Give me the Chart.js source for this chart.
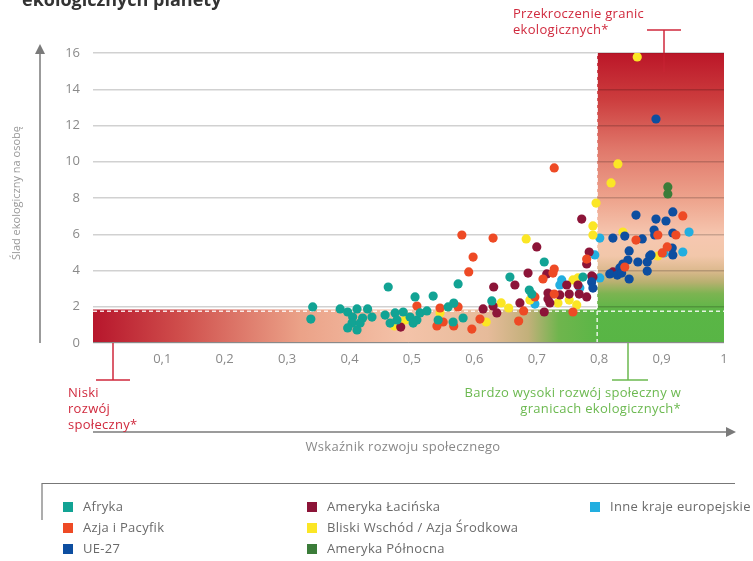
<!DOCTYPE html>
<html lang="pl">
<head>
    <meta charset="UTF-8">
    <title>Ślad ekologiczny a rozwój społeczny</title>
    <style>
        html, body { margin: 0; padding: 0; background: #fff; }
        #wrap { width: 753px; height: 561px; }
    </style>
</head>
<body>

<div id="wrap">
    <canvas id="myChart" width="753" height="561"></canvas>
</div>

<script src="https://cdn.jsdelivr.net/npm/chart.js@4/dist/chart.umd.min.js"></script>

<script>
    // tick labels
    var xTickVals = [0.1, 0.2, 0.3, 0.4, 0.5, 0.6, 0.7, 0.8, 0.9, 1];
    var xTickLabels = ['0,1', '0,2', '0,3', '0,4', '0,5', '0,6', '0,7', '0,8', '0,9', '1'];

    // regions: [x, y] per country, x = wskaznik rozwoju, y = slad ekologiczny
    var afryka = [
        [0.338, 1.32], [0.341, 1.99], [0.385, 1.88], [0.397, 1.71], [0.412, 1.88], [0.429, 1.88],
        [0.405, 1.43], [0.421, 1.38], [0.436, 1.43], [0.404, 1.10], [0.417, 1.10], [0.397, 0.83],
        [0.412, 0.72], [0.457, 1.54], [0.473, 1.66], [0.486, 1.71], [0.476, 1.27], [0.497, 1.43],
        [0.508, 1.27], [0.465, 1.10], [0.513, 1.66], [0.524, 1.77], [0.502, 1.10], [0.542, 1.27],
        [0.566, 1.16], [0.582, 1.38], [0.462, 3.09], [0.505, 2.54], [0.534, 2.59], [0.558, 1.99],
        [0.567, 2.20], [0.574, 3.26], [0.628, 2.32], [0.657, 3.64], [0.712, 4.47], [0.688, 2.92],
        [0.692, 2.70], [0.774, 3.64]
    ];
    var azjaPacyfik = [
        [0.508, 2.04], [0.545, 1.93], [0.540, 0.94], [0.550, 1.16], [0.567, 0.94], [0.574, 1.99],
        [0.596, 0.77], [0.609, 1.32], [0.580, 5.96], [0.591, 3.92], [0.598, 4.74], [0.630, 5.79],
        [0.671, 1.21], [0.679, 1.77], [0.697, 2.54], [0.710, 3.53], [0.726, 3.86], [0.728, 4.08],
        [0.728, 2.70], [0.758, 1.71], [0.780, 4.63], [0.728, 9.66], [0.934, 7.01], [0.859, 5.68],
        [0.894, 5.96], [0.923, 5.96], [0.901, 4.97], [0.909, 5.30], [0.841, 4.19]
    ];
    var ue27 = [
        [0.859, 7.06], [0.918, 7.23], [0.891, 6.84], [0.907, 6.73], [0.822, 5.79], [0.841, 5.90],
        [0.869, 5.74], [0.888, 6.23], [0.889, 5.96], [0.918, 6.07], [0.848, 5.08], [0.883, 4.86],
        [0.917, 5.24], [0.918, 4.86], [0.846, 4.58], [0.838, 4.36], [0.862, 4.47], [0.877, 4.47],
        [0.881, 4.80], [0.833, 4.14], [0.877, 3.97], [0.817, 3.81], [0.829, 3.75], [0.836, 3.86],
        [0.848, 3.53], [0.788, 3.37], [0.790, 3.03], [0.891, 12.36]
    ];
    var amerykaLacinska = [
        [0.482, 0.88], [0.614, 1.88], [0.630, 2.04], [0.636, 1.66], [0.631, 3.09], [0.665, 3.20],
        [0.686, 3.86], [0.700, 5.30], [0.772, 6.84], [0.784, 5.02], [0.780, 4.36], [0.716, 3.81],
        [0.748, 3.20], [0.790, 3.64], [0.766, 3.20], [0.718, 2.76], [0.737, 2.65], [0.752, 2.70],
        [0.768, 2.70], [0.780, 2.54], [0.721, 2.21], [0.718, 2.43], [0.673, 2.21], [0.712, 1.71],
        [0.822, 3.92], [0.788, 3.70]
    ];
    var bliskiWschod = [
        [0.472, 0.94], [0.489, 1.27], [0.545, 1.66], [0.619, 1.16], [0.643, 2.21], [0.655, 1.93],
        [0.683, 5.74], [0.689, 2.37], [0.734, 2.21], [0.752, 2.37], [0.764, 2.10], [0.758, 3.48],
        [0.766, 3.59], [0.795, 7.72], [0.790, 6.46], [0.790, 5.96], [0.838, 6.12], [0.894, 4.80],
        [0.861, 15.78], [0.830, 9.88], [0.819, 8.83]
    ];
    var amerykaPolnocna = [[0.910, 8.61], [0.910, 8.22]];
    var inneEuropa = [
        [0.801, 5.79], [0.944, 6.12], [0.904, 4.97], [0.934, 5.02], [0.793, 4.86], [0.801, 3.59],
        [0.740, 3.48], [0.737, 3.20], [0.769, 3.03], [0.697, 2.15]
    ];

    var regionNames = ['Afryka', 'Azja i Pacyfik', 'UE-27', 'Ameryka Łacińska',
        'Bliski Wschód / Azja Środkowa', 'Ameryka Północna', 'Inne kraje europejskie'];
    var regionData = [afryka, azjaPacyfik, ue27, amerykaLacinska, bliskiWschod, amerykaPolnocna, inneEuropa];
    var regionColors = ['#12a394', '#ee4a25', '#0d4ea0', '#8c1438', '#fbe625', '#3b7c39', '#22aee0'];

    var FONT = '"Open Sans", "DejaVu Sans", sans-serif';

    function toPoints(arr) {
        return arr.map(function (p) { return { x: p[0], y: p[1] }; });
    }

    // background zones, dashed lines
    var zonesPlugin = {
        id: 'zones',
        beforeDraw: function (chart) {
            var ctx = chart.ctx, xs = chart.scales.x, ys = chart.scales.y;
            var left = chart.chartArea.left;
            var x08 = xs.getPixelForValue(0.8), x1 = xs.getPixelForValue(1);
            var y0 = ys.getPixelForValue(0), yBand = ys.getPixelForValue(1.85), y16 = ys.getPixelForValue(16);
            ctx.save();

            var g = ctx.createLinearGradient(left, 0, x08, 0);
            g.addColorStop(0, '#b7162c');
            g.addColorStop(0.17, '#cf4d4b');
            g.addColorStop(0.41, '#eba288');
            g.addColorStop(0.62, '#f4c3a9');
            g.addColorStop(0.78, '#e6bb9a');
            g.addColorStop(0.86, '#c2b07a');
            g.addColorStop(0.92, '#6fb54d');
            g.addColorStop(1, '#5ab646');
            ctx.fillStyle = g;
            ctx.fillRect(left, yBand, x08 - left, y0 - yBand);

            var v = ctx.createLinearGradient(0, y16, 0, y0);
            v.addColorStop(0, '#bb1628');
            v.addColorStop(0.16, '#cc3d3e');
            v.addColorStop(0.33, '#e0776a');
            v.addColorStop(0.51, '#eea58e');
            v.addColorStop(0.63, '#f6c7b0');
            v.addColorStop(0.70, '#f2c7aa');
            v.addColorStop(0.75, '#dcb98e');
            v.addColorStop(0.79, '#b8b070');
            v.addColorStop(0.83, '#7cb451');
            v.addColorStop(0.89, '#5ab646');
            v.addColorStop(1, '#58b545');
            ctx.fillStyle = v;
            ctx.fillRect(x08 - 2, y16, x1 - x08 + 2, y0 - y16);
            ctx.restore();
        },
        beforeDatasetsDraw: function (chart) {
            var ctx = chart.ctx, xs = chart.scales.x, ys = chart.scales.y;
            var left = chart.chartArea.left;
            var x08 = xs.getPixelForValue(0.8) - 2, x1 = xs.getPixelForValue(1);
            var y0 = ys.getPixelForValue(0), y16 = ys.getPixelForValue(16), yd = ys.getPixelForValue(1.75);
            ctx.save();
            ctx.setLineDash([4, 3]);
            ctx.lineWidth = 1.5;
            ctx.strokeStyle = 'rgba(255,255,255,0.85)';
            ctx.beginPath();
            ctx.moveTo(left, yd);
            ctx.lineTo(x1, yd);
            ctx.moveTo(x08, y0);
            ctx.lineTo(x08, y16);
            ctx.stroke();
            ctx.setLineDash([]);
            ctx.strokeStyle = '#8a8a8a';
            ctx.lineWidth = 1;
            ctx.beginPath();
            ctx.moveTo(left, y0 - 0.5);
            ctx.lineTo(x1, y0 - 0.5);
            ctx.stroke();
            ctx.restore();
        }
    };

    function arrowLine(ctx, x1, y1, x2, y2) {
        ctx.beginPath();
        ctx.moveTo(x1, y1);
        ctx.lineTo(x2, y2);
        ctx.stroke();
        var a = Math.atan2(y2 - y1, x2 - x1);
        ctx.beginPath();
        ctx.moveTo(x2 + Math.cos(a) * 4, y2 + Math.sin(a) * 4);
        ctx.lineTo(x2 - Math.cos(a) * 6 + Math.sin(a) * 5, y2 - Math.sin(a) * 6 - Math.cos(a) * 5);
        ctx.lineTo(x2 - Math.cos(a) * 6 - Math.sin(a) * 5, y2 - Math.sin(a) * 6 + Math.cos(a) * 5);
        ctx.closePath();
        ctx.fill();
    }

    // arrows, axis titles, notes and legend
    var decorPlugin = {
        id: 'decor',
        afterDraw: function (chart) {
            var ctx = chart.ctx;
            var red = '#d0293d', green = '#6cb950';
            ctx.save();

            // cut off title
            ctx.fillStyle = '#333';
            ctx.font = 'bold 18px ' + FONT;
            ctx.textAlign = 'left';
            ctx.textBaseline = 'alphabetic';
            ctx.fillText('ekologicznych planety', 22, 6);

            // axis arrows
            ctx.strokeStyle = '#7a7a7a';
            ctx.fillStyle = '#7a7a7a';
            ctx.lineWidth = 1.5;
            arrowLine(ctx, 40, 343, 40, 48);
            arrowLine(ctx, 93, 432, 732, 432);

            ctx.letterSpacing = '0.3px';
            ctx.fillStyle = '#888';
            ctx.font = '13px ' + FONT;
            ctx.textAlign = 'center';
            ctx.textBaseline = 'middle';
            ctx.fillText('Wskaźnik rozwoju społecznego', 403, 447);

            ctx.save();
            ctx.translate(17, 193);
            ctx.rotate(-Math.PI / 2);
            ctx.letterSpacing = '0px';
            ctx.font = '11px ' + FONT;
            ctx.fillStyle = '#999';
            ctx.fillText('Ślad ekologiczny na osobę', 0, 0);
            ctx.restore();

            // red bracket, top
            ctx.strokeStyle = red;
            ctx.lineWidth = 1.5;
            ctx.beginPath();
            ctx.moveTo(647, 30); ctx.lineTo(681, 30);
            ctx.moveTo(664, 30); ctx.lineTo(664, 53);
            ctx.stroke();
            ctx.globalAlpha = 0.35;
            ctx.beginPath();
            ctx.moveTo(664, 53); ctx.lineTo(664, 72);
            ctx.stroke();
            ctx.globalAlpha = 1;

            ctx.fillStyle = red;
            ctx.font = '13px ' + FONT;
            ctx.textAlign = 'left';
            ctx.fillText('Przekroczenie granic', 513, 14);
            ctx.fillText('ekologicznych*', 513, 30);

            // red bracket, left
            ctx.beginPath();
            ctx.moveTo(113, 343); ctx.lineTo(113, 380);
            ctx.moveTo(96, 380); ctx.lineTo(130, 380);
            ctx.stroke();
            ctx.fillText('Niski', 68, 393);
            ctx.fillText('rozwój', 68, 409);
            ctx.fillText('społeczny*', 68, 425);

            // green bracket
            ctx.strokeStyle = green;
            ctx.beginPath();
            ctx.moveTo(628, 343); ctx.lineTo(628, 380);
            ctx.moveTo(612, 380); ctx.lineTo(648, 380);
            ctx.stroke();
            ctx.fillStyle = green;
            ctx.textAlign = 'right';
            ctx.fillText('Bardzo wysoki rozwój społeczny w', 681, 393);
            ctx.fillText('granicach ekologicznych*', 681, 409);

            // legend frame
            ctx.strokeStyle = '#777';
            ctx.lineWidth = 1.2;
            ctx.beginPath();
            ctx.moveTo(42, 520); ctx.lineTo(42, 483.5); ctx.lineTo(735, 483.5);
            ctx.stroke();

            var colX = [63, 307, 590], rowY = [507, 528, 549];
            ctx.textAlign = 'left';
            ctx.font = '13px ' + FONT;
            chart.data.datasets.forEach(function (ds, i) {
                var cx = colX[Math.floor(i / 3)], cy = rowY[i % 3];
                ctx.fillStyle = ds.backgroundColor;
                ctx.fillRect(cx, cy - 5, 10, 10);
                ctx.fillStyle = '#6a6a6a';
                ctx.fillText(ds.label, cx + 20, cy);
            });
            ctx.restore();
        }
    };

    var ctx = document.getElementById('myChart').getContext('2d');
    var myChart = new Chart(ctx, {
        type: 'scatter',
        data: {
            datasets: regionNames.map(function (name, i) {
                return {
                    label: name,
                    data: toPoints(regionData[i]),
                    backgroundColor: regionColors[i],
                    borderWidth: 0,
                    pointRadius: 4.6
                };
            })
        },
        options: {
            responsive: false,
            animation: false,
            layout: { padding: { top: 53, right: 29, left: 0, bottom: 0 } },
            plugins: {
                legend: { display: false },
                tooltip: { enabled: false }
            },
            scales: {
                x: {
                    type: 'linear',
                    min: -0.011,
                    max: 1,
                    afterBuildTicks: function (s) {
                        s.ticks = xTickVals.map(function (v) { return { value: v }; });
                    },
                    afterFit: function (s) { s.height = 218; },
                    grid: { display: false, drawTicks: false },
                    border: { display: false },
                    ticks: {
                        color: '#8a8a8a',
                        font: { family: FONT, size: 13 },
                        padding: 8,
                        maxRotation: 0,
                        autoSkip: false,
                        callback: function (v, i) { return xTickLabels[i]; }
                    }
                },
                y: {
                    min: 0,
                    max: 16,
                    afterFit: function (s) { s.width = 93; },
                    grid: { color: 'rgba(0,0,0,0.18)', lineWidth: 1.5, drawTicks: false },
                    border: { display: false },
                    ticks: {
                        stepSize: 2,
                        color: '#8a8a8a',
                        font: { family: FONT, size: 13 },
                        padding: 13
                    }
                }
            }
        },
        plugins: [zonesPlugin, decorPlugin]
    });
</script>

</body>
</html>
